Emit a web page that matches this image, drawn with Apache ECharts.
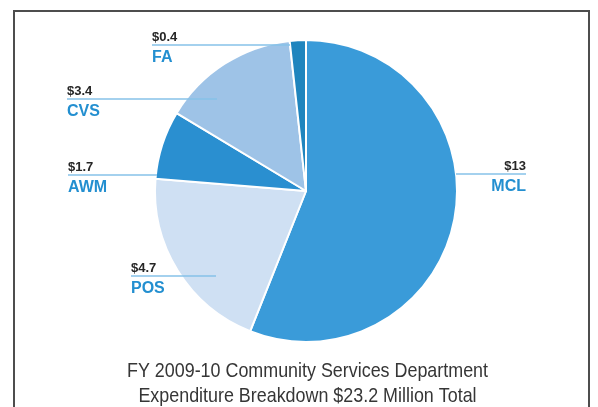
<!DOCTYPE html>
<html>
<head>
<meta charset="utf-8">
<script src="https://cdn.jsdelivr.net/npm/echarts@6/dist/echarts.min.js"></script>
<style>
  html, body { margin: 0; padding: 0; background: #ffffff; }
  #frame { position: absolute; left: 13px; top: 10px; width: 577px; height: 420px; border: 2px solid #4d4d4d; box-sizing: border-box; }
  #chart { position: absolute; left: 0; top: 0; width: 598px; height: 407px; }
</style>
</head>
<body>
<div id="frame"></div>
<div id="chart"></div>
<script>
// Data (millions of dollars)
const categories = ['MCL', 'POS', 'AWM', 'CVS', 'FA'];
const values = [13, 4.7, 1.7, 3.4, 0.4];
const sliceColors = ['#3a9bd9', '#cfe0f3', '#2a8fd0', '#9ec3e7', '#1f85be'];
const titleLines = ['FY 2009-10 Community Services Department', 'Expenditure Breakdown $23.2 Million Total'];

// label placement (leader line y, text anchor x, line far end x)
const labelPlace = {
  MCL: { y: 174, x: 526, end: 456, align: 'right' },
  POS: { y: 276, x: 131, end: 216, align: 'left' },
  AWM: { y: 175, x: 68, end: 157, align: 'left' },
  CVS: { y: 99, x: 67, end: 217, align: 'left' },
  FA:  { y: 45, x: 152, end: 290, align: 'left' }
};

const FONT = '"Liberation Sans", Arial, sans-serif';

// condensed look for the caption: measure natural width, compress to the reference width
const TITLE_SIZE = 21;
const TITLE_WIDTH = 361;
const mctx = document.createElement('canvas').getContext('2d');
mctx.font = TITLE_SIZE + 'px "Liberation Sans"';
const natural = Math.max(mctx.measureText(titleLines[0]).width, 1);
const titleScale = TITLE_WIDTH / natural;

const pieBase = {
  type: 'pie',
  center: [306, 191],
  radius: [0, 151],
  startAngle: 90,
  clockwise: true,
  avoidLabelOverlap: false,
  data: categories.map((c, i) => ({ name: c, value: values[i] }))
};

const chart = echarts.init(document.getElementById('chart'), null, { renderer: 'canvas' });
chart.setOption({
  backgroundColor: 'transparent',
  animation: false,
  graphic: [{
    type: 'text',
    x: 307.5,
    y: 359,
    scaleX: titleScale,
    silent: true,
    style: {
      text: titleLines.join('\n'),
      x: 0,
      y: 0,
      align: 'center',
      verticalAlign: 'top',
      font: TITLE_SIZE + 'px "Liberation Sans", Arial, sans-serif',
      lineHeight: 25,
      fill: '#363636'
    }
  }],
  series: [
    Object.assign({}, pieBase, {
      z: 2,
      itemStyle: { borderColor: '#ffffff', borderWidth: 2 },
      label: { show: false },
      labelLine: { show: false },
      data: categories.map((c, i) => ({ name: c, value: values[i], itemStyle: { color: sliceColors[i] } }))
    }),
    Object.assign({}, pieBase, {
      z: 5,
      silent: true,
      itemStyle: { color: 'rgba(0,0,0,0)', borderWidth: 0 },
      label: {
        show: true,
        position: 'outside',
        formatter: p => '{v|$' + p.value + '}\n{n|' + p.name + '}',
        rich: {
          v: { fontFamily: FONT, fontSize: 13, fontWeight: 'bold', color: '#262626', lineHeight: 16 },
          n: { fontFamily: FONT, fontSize: 16, fontWeight: 'bold', color: '#238fd0', lineHeight: 26 }
        }
      },
      labelLine: { show: true, lineStyle: { color: '#86c2e8', width: 1.3 } },
      labelLayout: function (params) {
        const pl = labelPlace[categories[params.dataIndex]];
        return {
          x: pl.x,
          y: pl.y - 16,
          align: pl.align,
          verticalAlign: 'top',
          labelLinePoints: [[pl.end, pl.y], [(pl.end + pl.x) / 2, pl.y], [pl.x, pl.y]]
        };
      }
    })
  ]
});
</script>
</body>
</html>
